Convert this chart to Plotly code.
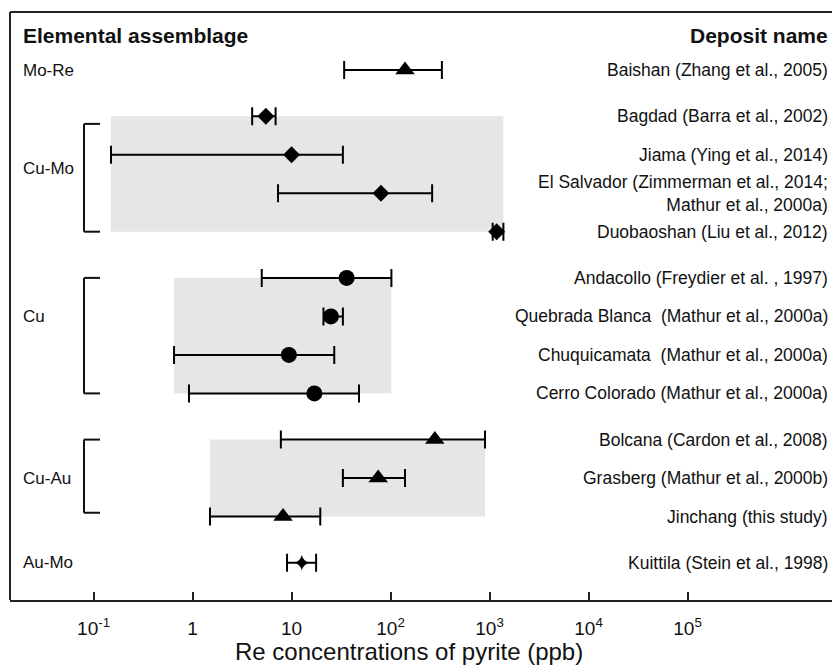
import plotly.graph_objects as go

# ---- data ----
deposits = [
    "Baishan (Zhang et al., 2005)",
    "Bagdad (Barra et al., 2002)",
    "Jiama (Ying et al., 2014)",
    "El Salvador (Zimmerman et al., 2014;<br>Mathur et al., 2000a)",
    "Duobaoshan (Liu et al., 2012)",
    "Andacollo (Freydier et al. , 1997)",
    "Quebrada Blanca\u00a0 (Mathur et al., 2000a)",
    "Chuquicamata\u00a0 (Mathur et al., 2000a)",
    "Cerro Colorado (Mathur et al., 2000a)",
    "Bolcana (Cardon et al., 2008)",
    "Grasberg (Mathur et al., 2000b)",
    "Jinchang (this study)",
    "Kuittila (Stein et al., 1998)",
]
groups = ["Mo-Re", "Cu-Mo", "Cu-Mo", "Cu-Mo", "Cu-Mo", "Cu", "Cu", "Cu", "Cu",
          "Cu-Au", "Cu-Au", "Cu-Au", "Au-Mo"]
re_mid = [140, 5.5, 10, 80, 1180, 36, 25, 9.4, 17, 280, 75, 8.2, 12.7]
re_low = [34, 4.0, 0.15, 7.3, 1075, 5.0, 21, 0.65, 0.92, 7.8, 33, 1.5, 9.0]
re_high = [330, 6.9, 33, 263, 1380, 102, 33, 27, 48, 900, 140, 19.5, 17.7]

group_order = ["Mo-Re", "Cu-Mo", "Cu", "Cu-Au", "Au-Mo"]
group_symbols = {"Mo-Re": "triangle-up", "Cu-Mo": "diamond", "Cu": "circle",
                 "Cu-Au": "triangle-up", "Au-Mo": "star-diamond"}
group_sizes = {"Mo-Re": 17, "Cu-Mo": 13, "Cu": 16, "Cu-Au": 17, "Au-Mo": 11}
shaded_groups = ["Cu-Mo", "Cu", "Cu-Au"]
bracket_groups = ["Cu-Mo", "Cu", "Cu-Au"]

tick_vals = [0.1, 1, 10, 100, 1000, 1e4, 1e5]
tick_text = ["10<sup>-1</sup>", "1", "10", "10<sup>2</sup>", "10<sup>3</sup>",
             "10<sup>4</sup>", "10<sup>5</sup>"]
x_title = "Re concentrations of pyrite (ppb)"

# ---- layout constants ----
W, H = 832, 665
ML, MR, MT, MB = 10, 0, 12, 65
PW = W - ML - MR
GAP = 0.2
U = 38.5          # pixels per row unit
ROW0_PX = 70      # pixel row of first deposit


def px_to_paper_x(px):
    return (px - ML) / PW


rows = []
gi = -1
prev = None
for i, g in enumerate(groups):
    if g != prev:
        gi += 1
        prev = g
    rows.append(i + gi * GAP)

fig = go.Figure()

shapes = []
# shaded ranges per group (span of all error bars in group)
for g in shaded_groups:
    idx = [i for i, gg in enumerate(groups) if gg == g]
    lo = min(re_low[i] for i in idx)
    hi = max(re_high[i] for i in idx)
    shapes.append(dict(type="rect", xref="x", yref="y", x0=lo, x1=hi,
                       y0=rows[idx[0]], y1=rows[idx[-1]], fillcolor="#e6e6e6",
                       line_width=0, layer="below"))

# brackets
bx_v, bx_h = px_to_paper_x(84), px_to_paper_x(100)
for g in bracket_groups:
    idx = [i for i, gg in enumerate(groups) if gg == g]
    y0 = rows[idx[0]] + (0.2 if g == "Cu-Mo" else 0)
    y1 = rows[idx[-1]] - (0.1 if g == "Cu-Au" else 0)
    for (xa, ya, xb, yb) in [(bx_h, y0, bx_v, y0), (bx_v, y0, bx_v, y1), (bx_v, y1, bx_h, y1)]:
        shapes.append(dict(type="line", xref="paper", yref="y", x0=xa, x1=xb,
                           y0=ya, y1=yb, line=dict(color="#111", width=2)))

# frame: left and top
shapes.append(dict(type="line", xref="paper", yref="paper", x0=0, x1=0, y0=0, y1=1,
                   line=dict(color="#222", width=2)))
shapes.append(dict(type="line", xref="paper", yref="paper", x0=0, x1=1.01, y0=1, y1=1,
                   line=dict(color="#222", width=2)))

for g in group_order:
    idx = [i for i, gg in enumerate(groups) if gg == g]
    fig.add_trace(go.Scatter(
        x=[re_mid[i] for i in idx],
        y=[rows[i] for i in idx],
        mode="markers",
        marker=dict(symbol=group_symbols[g], size=group_sizes[g], color="black",
                    line=dict(width=0)),
        error_x=dict(type="data", symmetric=False,
                     array=[re_high[i] - re_mid[i] for i in idx],
                     arrayminus=[re_mid[i] - re_low[i] for i in idx],
                     color="black", thickness=2, width=9),
        showlegend=False, name=g,
    ))

FONT = "Liberation Sans, Arial, sans-serif"
annotations = []
for i, d in enumerate(deposits):
    annotations.append(dict(xref="paper", yref="y", x=1, y=rows[i], xshift=-2,
                            xanchor="right", yanchor="middle", text=d, showarrow=False,
                            align="right",
                            font=dict(family=FONT, size=17.5, color="#111")))

group_label_y = {"Mo-Re": rows[0], "Cu-Mo": 2.55, "Cu": rows[6], "Cu-Au": rows[10],
                 "Au-Mo": rows[12]}
for g in group_order:
    annotations.append(dict(xref="paper", yref="y", x=0, y=group_label_y[g], xshift=11,
                            xanchor="left", yanchor="middle", text=g, showarrow=False,
                            font=dict(family=FONT, size=17, color="#111")))

annotations.append(dict(xref="paper", yref="paper", x=0, y=1, xshift=11, yshift=-23,
                        xanchor="left", yanchor="middle", text="<b>Elemental assemblage</b>",
                        showarrow=False, font=dict(family=FONT, size=21, color="#111")))
annotations.append(dict(xref="paper", yref="paper", x=1, y=1, xshift=-2, yshift=-23,
                        xanchor="right", yanchor="middle", text="<b>Deposit name</b>",
                        showarrow=False, font=dict(family=FONT, size=21, color="#111")))
annotations.append(dict(xref="paper", yref="paper", x=px_to_paper_x(409), y=0, yshift=-51,
                        xanchor="center", yanchor="middle", text=x_title,
                        showarrow=False, font=dict(family=FONT, size=24, color="#111")))

fig.update_layout(
    width=W, height=H,
    margin=dict(l=ML, r=MR, t=MT, b=MB),
    paper_bgcolor="white", plot_bgcolor="white",
    shapes=shapes, annotations=annotations,
    xaxis=dict(type="log", range=[-1.844, 6.459], tickvals=tick_vals, ticktext=tick_text,
               ticks="inside", ticklen=8, tickwidth=2, tickcolor="#222",
               showline=True, linewidth=2, linecolor="#222", showgrid=False, zeroline=False,
               ticklabelstandoff=10,
               tickfont=dict(family=FONT, size=19, color="#111")),
    yaxis=dict(range=[(H - MB - ROW0_PX) / U, (MT - ROW0_PX) / U], showgrid=False,
               zeroline=False, showticklabels=False, ticks="", showline=False),
)

fig.write_html("out.html")
